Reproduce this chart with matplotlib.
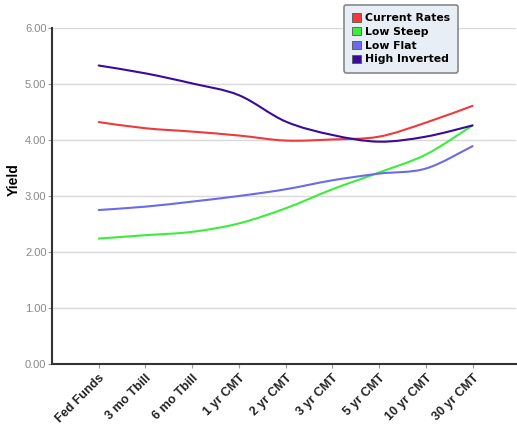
import numpy as np
import matplotlib
matplotlib.use("Agg")
import matplotlib.pyplot as plt
from matplotlib.path import Path
from matplotlib.patches import PathPatch, Patch

maturities = ["Fed Funds", "3 mo Tbill", "6 mo Tbill", "1 yr CMT", "2 yr CMT",
              "3 yr CMT", "5 yr CMT", "10 yr CMT", "30 yr CMT"]

current_rates = [4.32, 4.21, 4.15, 4.08, 3.99, 4.01, 4.06, 4.31, 4.61]
low_steep     = [2.24, 2.30, 2.36, 2.51, 2.78, 3.12, 3.42, 3.74, 4.26]
low_flat      = [2.75, 2.81, 2.90, 3.00, 3.12, 3.28, 3.40, 3.49, 3.89]
high_inverted = [5.33, 5.19, 5.01, 4.80, 4.33, 4.09, 3.97, 4.06, 4.26]

series = [
    ("Current Rates", current_rates, "#ee3a3a"),
    ("Low Steep", low_steep, "#3aee3a"),
    ("Low Flat", low_flat, "#6a6aee"),
    ("High Inverted", high_inverted, "#3a0a9a"),
]

y_ticks = [0, 1, 2, 3, 4, 5, 6]

ARIAL = "Liberation Sans"


def smooth_path(xs, ys):
    """Cubic Bezier path through the points (Catmull-Rom tangents)."""
    xs = np.asarray(xs, float)
    ys = np.asarray(ys, float)
    n = len(xs)
    verts = [(xs[0], ys[0])]
    codes = [Path.MOVETO]
    for i in range(n - 1):
        p0 = np.array([xs[max(i - 1, 0)], ys[max(i - 1, 0)]])
        p1 = np.array([xs[i], ys[i]])
        p2 = np.array([xs[i + 1], ys[i + 1]])
        p3 = np.array([xs[min(i + 2, n - 1)], ys[min(i + 2, n - 1)]])
        c1 = p1 + (p2 - p0) / 6.0
        c2 = p2 - (p3 - p1) / 6.0
        verts += [tuple(c1), tuple(c2), tuple(p2)]
        codes += [Path.CURVE4] * 3
    return Path(verts, codes)


fig = plt.figure(figsize=(5.17, 4.26), dpi=100)
ax = fig.add_axes([52 / 517, 1 - 364 / 426, 464 / 517, 336 / 426])

x = np.arange(len(maturities))
handles = []
for name, vals, color in series:
    patch = PathPatch(smooth_path(x, vals), facecolor="none",
                      edgecolor=color, lw=1.5, capstyle="round", zorder=3)
    ax.add_patch(patch)
    handles.append(Patch(facecolor=color, edgecolor="#555555", lw=0.6, label=name))

ax.set_xlim(-1.0, 8.93)
ax.set_ylim(0, 6)
ax.set_yticks(y_ticks)
ax.set_yticklabels([f"{v:.2f}" for v in y_ticks], color="#888888",
                   fontsize=8, family=ARIAL)
ax.set_xticks(x)
ax.set_xticklabels(maturities, rotation=45, ha="right", rotation_mode="anchor",
                   fontsize=9, fontweight="bold", color="#222222", family=ARIAL)
ax.tick_params(axis="x", length=3, color="#999999", pad=3)
ax.tick_params(axis="y", length=3, color="#999999", pad=1)
ax.grid(axis="y", color="#d9d9d9", lw=1.0, zorder=0)
ax.set_axisbelow(True)
for side in ("top", "right"):
    ax.spines[side].set_visible(False)
for side in ("left", "bottom"):
    ax.spines[side].set_color("#333333")
    ax.spines[side].set_linewidth(1.5)

ax.set_ylabel("Yield", fontsize=10, fontweight="bold", family=ARIAL)
ax.yaxis.set_label_coords(-0.068, 0.55)

leg = fig.legend(handles=handles, loc="upper left",
                 bbox_to_anchor=(344 / 517, 1 - 5 / 426), borderaxespad=0,
                 prop={"size": 7.8, "weight": "bold"},
                 handlelength=0.8, handleheight=0.8, handletextpad=0.4,
                 labelspacing=0.35, borderpad=0.75, fancybox=True,
                 frameon=True, framealpha=1.0)
frame = leg.get_frame()
frame.set_facecolor("#e8eef5")
frame.set_edgecolor("#888888")
frame.set_linewidth(1.2)

fig.savefig("out.png", dpi=100)
